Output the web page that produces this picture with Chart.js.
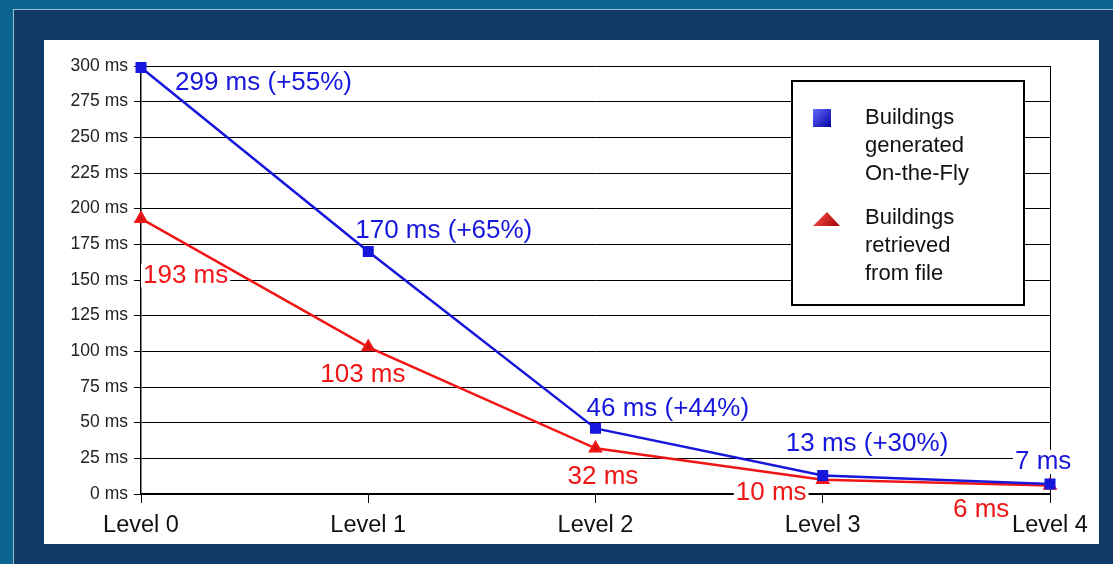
<!doctype html>
<html lang="en">
<head>
<meta charset="utf-8">
<title>Rendering time per level</title>
<script src="https://cdn.jsdelivr.net/npm/chart.js@4"></script>
<style>
  html, body { margin: 0; padding: 0; }
  body {
    width: 1113px; height: 564px; overflow: hidden; position: relative;
    background: #0c6590;
    font-family: "Liberation Sans", Arial, sans-serif;
  }
  .frame {
    position: absolute; left: 13px; top: 9px; width: 1120px; height: 580px;
    background: #113a69; border: 1px solid #9cbcd2;
  }
  .card {
    position: absolute; left: 44px; top: 40px; width: 1055px; height: 504px;
    background: #fff;
  }
</style>
</head>
<body>
<div class="frame"></div>
<div class="card"><canvas id="timesChart" width="1055" height="504"></canvas></div>

<script>
// data
const levels = ['Level 0', 'Level 1', 'Level 2', 'Level 3', 'Level 4'];
const onTheFly = [299, 170, 46, 13, 7];
const fromFile = [193, 103, 32, 10, 6];
const overheadPct = [55, 65, 44, 30, null];
const yTicks = [0, 25, 50, 75, 100, 125, 150, 175, 200, 225, 250, 275, 300];
const legendLines = [
  ['Buildings', 'generated', 'On-the-Fly'],
  ['Buildings', 'retrieved', 'from file']
];

const BLUE = '#1616dc';
const RED = '#f01616';
const FONT = '"Liberation Sans", Arial, sans-serif';

function labelText(ds, i) {
  if (ds === 0 && overheadPct[i] != null) return onTheFly[i] + ' ms (+' + overheadPct[i] + '%)';
  return (ds === 0 ? onTheFly[i] : fromFile[i]) + ' ms';
}

// value labels next to every point; white box hides the grid, lines stay on top
const valueLabels = {
  id: 'valueLabels',
  beforeDatasetsDraw(chart, args, opts) {
    const ctx = chart.ctx;
    ctx.save();
    ctx.font = opts.size + 'px ' + FONT;
    ctx.textBaseline = 'middle';
    chart.data.datasets.forEach((ds, d) => {
      const meta = chart.getDatasetMeta(d);
      meta.data.forEach((pt, i) => {
        const txt = labelText(d, i);
        const off = opts.offsets[d][i];
        const x = pt.x + off[0], y = pt.y + off[1];
        const w = ctx.measureText(txt).width;
        ctx.fillStyle = '#fff';
        ctx.fillRect(x - 2, y - 12, w + 4, 24);
        ctx.fillStyle = ds.borderColor;
        ctx.fillText(txt, x, y);
      });
    });
    ctx.restore();
  }
};

// boxed legend in the upper right
const boxLegend = {
  id: 'boxLegend',
  afterDraw(chart, args, o) {
    const ctx = chart.ctx;
    ctx.save();
    ctx.fillStyle = '#fff';
    ctx.fillRect(o.x, o.y, o.w, o.h);
    ctx.lineWidth = 2;
    ctx.strokeStyle = '#000';
    ctx.strokeRect(o.x, o.y, o.w, o.h);

    // square marker
    let g = ctx.createLinearGradient(o.x + 21, o.y + 28, o.x + 39, o.y + 46);
    g.addColorStop(0, '#6a6aff');
    g.addColorStop(1, '#0000a0');
    ctx.fillStyle = g;
    ctx.fillRect(o.x + 21, o.y + 28, 18, 18);

    // triangle marker
    g = ctx.createLinearGradient(o.x + 22, o.y + 130, o.x + 48, o.y + 146);
    g.addColorStop(0, '#ff5050');
    g.addColorStop(1, '#a00000');
    ctx.fillStyle = g;
    ctx.beginPath();
    ctx.moveTo(o.x + 35, o.y + 131);
    ctx.lineTo(o.x + 48, o.y + 145);
    ctx.lineTo(o.x + 21, o.y + 145);
    ctx.closePath();
    ctx.fill();

    ctx.fillStyle = '#111';
    ctx.font = '22px ' + FONT;
    ctx.textBaseline = 'middle';
    legendLines.forEach((lines, k) => {
      lines.forEach((t, j) => {
        ctx.fillText(t, o.x + 73, o.y + 37 + k * 100 + j * 28);
      });
    });
    ctx.restore();
  }
};

new Chart(document.getElementById('timesChart'), {
  type: 'line',
  data: {
    labels: levels,
    datasets: [{
      label: legendLines[0].join(' '),
      data: onTheFly,
      borderColor: BLUE,
      backgroundColor: BLUE,
      borderWidth: 2.5,
      pointStyle: 'rect',
      pointRadius: 6,
      tension: 0,
      clip: false
    }, {
      label: legendLines[1].join(' '),
      data: fromFile,
      borderColor: RED,
      backgroundColor: '#d01010',
      borderWidth: 2.5,
      pointStyle: 'triangle',
      pointRadius: 6,
      tension: 0,
      clip: false
    }]
  },
  options: {
    responsive: false,
    animation: false,
    layout: { padding: { top: 26, right: 49, left: 0, bottom: 0 } },
    plugins: {
      legend: { display: false },
      tooltip: { enabled: false },
      valueLabels: {
        size: 26,
        offsets: [
          [[34, 15], [-13, -21], [-9, -20], [-37, -32], [-35, -22]],
          [[2, 57], [-48, 28], [-28, 28], [-87, 13], [-97, 24]]
        ]
      },
      boxLegend: { x: 748, y: 41, w: 232, h: 224 }
    },
    scales: {
      x: {
        offset: false,
        afterFit(scale) { scale.height = 50; },
        grid: {
          offset: false,
          color: c => c.index === levels.length - 1 ? '#000' : 'rgba(0,0,0,0)',
          tickColor: '#000',
          tickLength: 9
        },
        border: { display: true, color: '#000', width: 1.5 },
        ticks: {
          color: '#111',
          font: { family: FONT, size: 23.5 },
          padding: 8,
          maxRotation: 0,
          autoSkip: false
        }
      },
      y: {
        min: 0,
        max: 300,
        afterFit(scale) { scale.width = 97; },
        afterBuildTicks(scale) { scale.ticks = yTicks.map(v => ({ value: v })); },
        grid: { color: '#000', tickColor: '#000', tickLength: 7 },
        border: { display: true, color: '#000', width: 1.5 },
        ticks: {
          color: '#222',
          font: { family: FONT, size: 17.5 },
          padding: 6,
          callback: v => v + ' ms'
        }
      }
    }
  },
  plugins: [valueLabels, boxLegend]
});
</script>
</body>
</html>
